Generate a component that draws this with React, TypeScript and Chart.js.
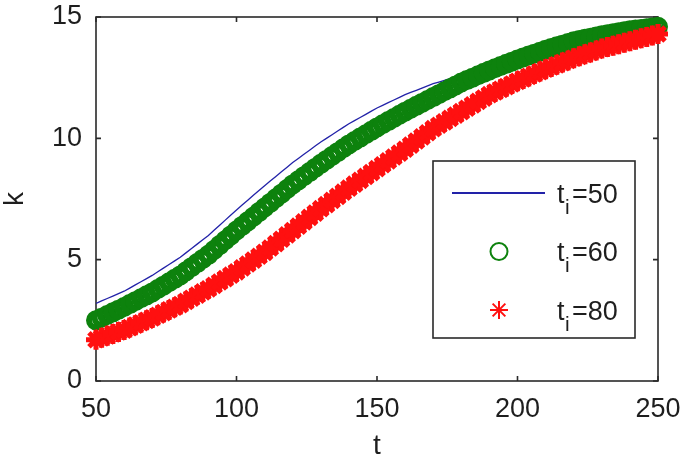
import React, { useEffect, useRef } from 'react';
import { Chart, registerables } from 'chart.js';

Chart.register(...registerables);

// time axis (t)
const tValues = [
  50, 52, 54, 56, 58, 60, 62, 64, 66, 68,
  70, 72, 74, 76, 78, 80, 82, 84, 86, 88,
  90, 92, 94, 96, 98, 100, 102, 104, 106, 108,
  110, 112, 114, 116, 118, 120, 122, 124, 126, 128,
  130, 132, 134, 136, 138, 140, 142, 144, 146, 148,
  150, 152, 154, 156, 158, 160, 162, 164, 166, 168,
  170, 172, 174, 176, 178, 180, 182, 184, 186, 188,
  190, 192, 194, 196, 198, 200, 202, 204, 206, 208,
  210, 212, 214, 216, 218, 220, 222, 224, 226, 228,
  230, 232, 234, 236, 238, 240, 242, 244, 246, 248,
  250,
];

// t_i = 50 (solid line)
const kTi50 = [
  3.20, 3.30, 3.40, 3.50, 3.60, 3.70, 3.83, 3.96, 4.09, 4.22,
  4.35, 4.50, 4.65, 4.80, 4.95, 5.10, 5.28, 5.46, 5.64, 5.82,
  6.00, 6.21, 6.42, 6.63, 6.84, 7.05, 7.25, 7.45, 7.65, 7.85,
  8.05, 8.24, 8.43, 8.62, 8.81, 9.00, 9.17, 9.34, 9.51, 9.68,
  9.85, 10.00, 10.15, 10.30, 10.45, 10.60, 10.73, 10.86, 10.99, 11.12,
  11.25, 11.36, 11.47, 11.58, 11.69, 11.80, 11.89, 11.98, 12.07, 12.16,
  12.25, 12.32, 12.39, 12.46, 12.53, 12.60, 12.67, 12.74, 12.81, 12.88,
  12.95, 13.02, 13.09, 13.16, 13.23, 13.30, 13.38, 13.46, 13.54, 13.62,
  13.70, 13.76, 13.82, 13.88, 13.94, 14.00, 14.05, 14.10, 14.15, 14.20,
  14.25, 14.29, 14.33, 14.37, 14.41, 14.45, 14.48, 14.51, 14.54, 14.57,
  14.60,
];

// t_i = 60 (circles)
const kTi60 = [
  2.50, 2.61, 2.72, 2.83, 2.94, 3.05, 3.17, 3.29, 3.41, 3.53,
  3.65, 3.79, 3.93, 4.07, 4.21, 4.35, 4.52, 4.69, 4.86, 5.03,
  5.20, 5.40, 5.60, 5.80, 6.00, 6.20, 6.39, 6.58, 6.77, 6.96,
  7.15, 7.34, 7.53, 7.72, 7.91, 8.10, 8.27, 8.44, 8.61, 8.78,
  8.95, 9.11, 9.27, 9.43, 9.59, 9.75, 9.89, 10.03, 10.17, 10.31,
  10.45, 10.58, 10.71, 10.84, 10.97, 11.10, 11.22, 11.34, 11.46, 11.58,
  11.70, 11.82, 11.94, 12.06, 12.18, 12.30, 12.40, 12.50, 12.60, 12.70,
  12.80, 12.89, 12.98, 13.07, 13.16, 13.25, 13.33, 13.41, 13.49, 13.57,
  13.65, 13.72, 13.79, 13.86, 13.93, 14.00, 14.05, 14.10, 14.15, 14.20,
  14.25, 14.29, 14.33, 14.37, 14.41, 14.45, 14.48, 14.51, 14.54, 14.57,
  14.60,
];

// t_i = 80 (stars)
const kTi80 = [
  1.70, 1.78, 1.86, 1.94, 2.02, 2.10, 2.20, 2.30, 2.40, 2.50,
  2.60, 2.71, 2.82, 2.93, 3.04, 3.15, 3.28, 3.41, 3.54, 3.67,
  3.80, 3.94, 4.08, 4.22, 4.36, 4.50, 4.66, 4.82, 4.98, 5.14,
  5.30, 5.48, 5.66, 5.84, 6.02, 6.20, 6.38, 6.56, 6.74, 6.92,
  7.10, 7.27, 7.44, 7.61, 7.78, 7.95, 8.11, 8.27, 8.43, 8.59,
  8.75, 8.91, 9.07, 9.23, 9.39, 9.55, 9.72, 9.89, 10.06, 10.23,
  10.40, 10.54, 10.68, 10.82, 10.96, 11.10, 11.24, 11.38, 11.52, 11.66,
  11.80, 11.91, 12.02, 12.13, 12.24, 12.35, 12.45, 12.55, 12.65, 12.75,
  12.85, 12.94, 13.03, 13.12, 13.21, 13.30, 13.38, 13.46, 13.54, 13.62,
  13.70, 13.76, 13.82, 13.88, 13.94, 14.00, 14.06, 14.12, 14.18, 14.24,
  14.30,
];

const tiLabels = ['50', '60', '80'];
const xTickValues = [50, 100, 150, 200, 250];
const yTickValues = [0, 5, 10, 15];
const xTitle = 't';
const yTitle = 'k';

const BLUE = '#2222a8';
const GREEN = '#0d820d';
const RED = '#ff1010';
const AXIS = '#2a2a2a';
const FONT = '"Liberation Sans", Arial, sans-serif';

const framePlugin = {
  id: 'frame',
  beforeDatasetsDraw(chart: any) {
    const { ctx, chartArea: a, scales } = chart;
    ctx.save();
    ctx.strokeStyle = AXIS;
    ctx.lineWidth = 1.6;
    ctx.strokeRect(a.left, a.top, a.right - a.left, a.bottom - a.top);
    const L = 5;
    ctx.beginPath();
    for (const v of xTickValues) {
      const px = scales.x.getPixelForValue(v);
      ctx.moveTo(px, a.bottom);
      ctx.lineTo(px, a.bottom - L);
      ctx.moveTo(px, a.top);
      ctx.lineTo(px, a.top + L);
    }
    for (const v of yTickValues) {
      const py = scales.y.getPixelForValue(v);
      ctx.moveTo(a.left, py);
      ctx.lineTo(a.left + L, py);
      ctx.moveTo(a.right, py);
      ctx.lineTo(a.right - L, py);
    }
    ctx.stroke();
    ctx.restore();
  },
};

const legendPlugin = {
  id: 'matLegend',
  afterDatasetsDraw(chart: any) {
    const { ctx } = chart;
    const box = { left: 433, top: 161, right: 635, bottom: 338 };
    ctx.save();
    ctx.fillStyle = '#ffffff';
    ctx.fillRect(box.left, box.top, box.right - box.left, box.bottom - box.top);
    ctx.strokeStyle = AXIS;
    ctx.lineWidth = 1.6;
    ctx.strokeRect(box.left, box.top, box.right - box.left, box.bottom - box.top);

    const rows = [193, 251.5, 310];
    const markX = 499;
    rows.forEach((cy, i) => {
      if (i === 0) {
        ctx.strokeStyle = BLUE;
        ctx.lineWidth = 2;
        ctx.beginPath();
        ctx.moveTo(452, cy);
        ctx.lineTo(545, cy);
        ctx.stroke();
      } else if (i === 1) {
        ctx.strokeStyle = GREEN;
        ctx.lineWidth = 2;
        ctx.beginPath();
        ctx.arc(markX, cy, 8.5, 0, Math.PI * 2);
        ctx.stroke();
      } else {
        ctx.strokeStyle = RED;
        ctx.lineWidth = 2;
        const r = 9;
        ctx.beginPath();
        ctx.moveTo(markX - r, cy); ctx.lineTo(markX + r, cy);
        ctx.moveTo(markX, cy - r); ctx.lineTo(markX, cy + r);
        const d = r * Math.SQRT1_2;
        ctx.moveTo(markX - d, cy - d); ctx.lineTo(markX + d, cy + d);
        ctx.moveTo(markX - d, cy + d); ctx.lineTo(markX + d, cy - d);
        ctx.stroke();
      }
      const base = cy + 9.5;
      ctx.fillStyle = '#1e1e1e';
      ctx.textBaseline = 'alphabetic';
      ctx.textAlign = 'left';
      ctx.font = `27px ${FONT}`;
      ctx.fillText('t', 557, base);
      ctx.font = `21px ${FONT}`;
      ctx.fillText('i', 565, base + 11);
      ctx.font = `27px ${FONT}`;
      ctx.fillText('=' + tiLabels[i], 572, base);
    });
    ctx.restore();
  },
};

export default function App() {
  const ref = useRef<HTMLCanvasElement | null>(null);

  useEffect(() => {
    if (!ref.current) return;
    const toPts = (ys: number[]) => tValues.map((t, i) => ({ x: t, y: ys[i] }));
    const zeroPad = (s: any) => {
      s.paddingTop = 0;
      s.paddingBottom = 0;
      s.paddingLeft = 0;
      s.paddingRight = 0;
    };
    const chart = new Chart(ref.current, {
      type: 'line',
      data: {
        datasets: [
          {
            label: 't_i=' + tiLabels[0],
            data: toPts(kTi50),
            borderColor: BLUE,
            borderWidth: 1.3,
            pointRadius: 0,
            showLine: true,
            tension: 0,
            order: 3,
          },
          {
            label: 't_i=' + tiLabels[1],
            data: toPts(kTi60),
            showLine: false,
            pointStyle: 'circle',
            pointRadius: 7,
            pointBorderWidth: 6,
            pointBorderColor: GREEN,
            pointBackgroundColor: 'rgba(0,0,0,0)',
            borderColor: GREEN,
            clip: false,
            order: 2,
          },
          {
            label: 't_i=' + tiLabels[2],
            data: toPts(kTi80),
            showLine: false,
            pointStyle: 'star',
            pointRadius: 10,
            pointBorderWidth: 5,
            pointBorderColor: RED,
            pointBackgroundColor: RED,
            borderColor: RED,
            clip: false,
            order: 1,
          },
        ] as any,
      },
      options: {
        responsive: false,
        animation: false,
        events: [],
        layout: { padding: { top: 17, right: 27, bottom: 0, left: 0 } },
        plugins: { legend: { display: false }, tooltip: { enabled: false } },
        scales: {
          x: {
            type: 'linear',
            min: 50,
            max: 250,
            grid: { display: false, drawTicks: false },
            border: { display: false },
            afterBuildTicks: (s: any) => {
              s.ticks = xTickValues.map((v) => ({ value: v }));
            },
            afterFit: (s: any) => {
              s.height = 81;
              zeroPad(s);
            },
            ticks: {
              padding: 12,
              color: '#1e1e1e',
              font: { family: FONT, size: 27 },
              maxRotation: 0,
              autoSkip: false,
            },
            title: {
              display: true,
              text: xTitle,
              color: '#1e1e1e',
              font: { family: FONT, size: 28, lineHeight: 1.1 },
              padding: 0,
            },
          },
          y: {
            type: 'linear',
            min: 0,
            max: 15,
            grid: { display: false, drawTicks: false },
            border: { display: false },
            afterBuildTicks: (s: any) => {
              s.ticks = yTickValues.map((v) => ({ value: v }));
            },
            afterFit: (s: any) => {
              s.width = 96;
              zeroPad(s);
            },
            ticks: {
              padding: 14,
              color: '#1e1e1e',
              font: { family: FONT, size: 27 },
              autoSkip: false,
            },
            title: {
              display: true,
              text: yTitle,
              color: '#1e1e1e',
              font: { family: FONT, size: 28, lineHeight: 1.1 },
              padding: 0,
            },
          },
        },
      } as any,
      plugins: [framePlugin, legendPlugin],
    });
    return () => chart.destroy();
  }, []);

  return (
    <div style={{ position: 'absolute', left: 0, top: 0, width: 685, height: 462, background: '#fff' }}>
      <canvas ref={ref} width={685} height={462} />
    </div>
  );
}
